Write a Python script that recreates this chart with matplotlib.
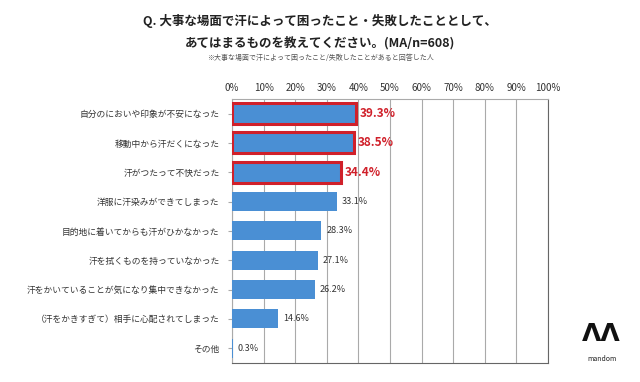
import matplotlib
matplotlib.use('Agg')
import matplotlib.pyplot as plt

plt.rcParams['font.family'] = ['Noto Sans CJK JP', 'DejaVu Sans']

# データ
labels = ['自分のにおいや印象が不安になった', '移動中から汗だくになった', '汗がつたって不快だった',
          '洋服に汗染みができてしまった', '目的地に着いてからも汗がひかなかった',
          '汗を拭くものを持っていなかった', '汗をかいていることが気になり集中できなかった',
          '（汗をかきすぎて）相手に心配されてしまった', 'その他']
values = [39.3, 38.5, 34.4, 33.1, 28.3, 27.1, 26.2, 14.6, 0.3]
highlight = [True, True, True, False, False, False, False, False, False]
xticks = [0, 10, 20, 30, 40, 50, 60, 70, 80, 90, 100]

fig = plt.figure(figsize=(6.4, 3.82), dpi=100)
ax = fig.add_axes([0.3625, 0.05, 0.4935, 0.691])

bar_color = '#4a8fd4'
red = '#d0202a'
ypos = list(range(len(values)))
for y, v, h in zip(ypos, values, highlight):
    if h:
        ax.barh(y, v, height=0.72, color=bar_color, edgecolor=red, linewidth=2.2, zorder=3)
        ax.text(v + 1.2, y, '%.1f%%' % v, va='center', ha='left', fontsize=8.5,
                fontweight='bold', color=red)
    else:
        ax.barh(y, v, height=0.65, color=bar_color, zorder=3)
        ax.text(v + 1.5, y, '%.1f%%' % v, va='center', ha='left', fontsize=6.5, color='#333333')

ax.set_xlim(0, 100)
ax.set_ylim(len(values) - 0.5, -0.5)
ax.set_xticks(xticks)
ax.set_xticklabels(['%d%%' % t for t in xticks], fontsize=7, color='#333333')
ax.xaxis.tick_top()
ax.tick_params(axis='x', length=0, pad=4)
ax.set_yticks(ypos)
ax.set_yticklabels(labels, fontsize=6.3, color='#333333')
ax.tick_params(axis='y', length=3, color='#aaaaaa', pad=6)
ax.grid(axis='x', color='#aaaaaa', linewidth=0.8, zorder=0)
for s in ['top', 'left']:
    ax.spines[s].set_color('#aaaaaa')
ax.spines['right'].set_color('#666666')
ax.spines['bottom'].set_color('#666666')

# タイトル
fig.text(0.5, 0.945, 'Q. 大事な場面で汗によって困ったこと・失敗したこととして、',
         ha='center', va='center', fontsize=9, fontweight='bold', color='#222222')
fig.text(0.5, 0.888, 'あてはまるものを教えてください。(MA/n=608)',
         ha='center', va='center', fontsize=9, fontweight='bold', color='#222222')
fig.text(0.5, 0.847, '※大事な場面で汗によって困ったこと/失敗したことがあると回答した人',
         ha='center', va='center', fontsize=5, color='#555555')

# ロゴ
fig.text(0.94, 0.125, 'ΛΛ', ha='center', va='center', fontsize=18, fontweight='bold',
         family='DejaVu Sans', color='#111111')
fig.text(0.94, 0.06, 'mandom', ha='center', va='center', fontsize=5, color='#222222')

fig.savefig('out.png', dpi=100)
